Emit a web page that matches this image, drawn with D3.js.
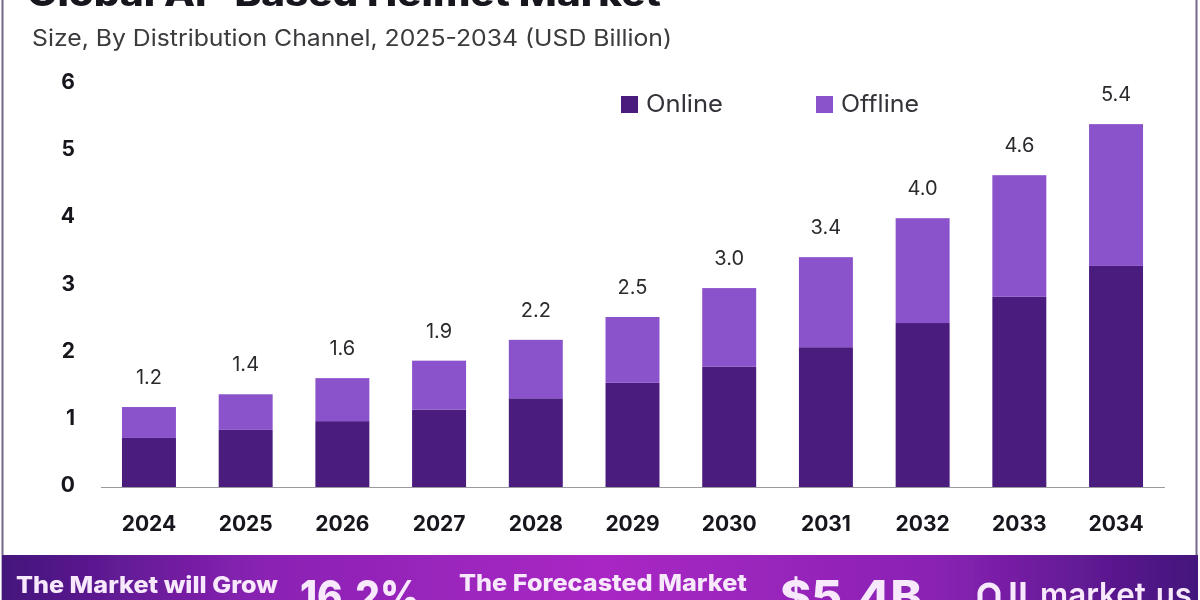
<!DOCTYPE html>
<html>
<head>
<meta charset="utf-8">
<script src="https://cdn.jsdelivr.net/npm/d3@7"></script>
<style>
  html, body { margin: 0; padding: 0; background: #fff; overflow: hidden; }
  svg { display: block; }
  text { font-family: Inter, "Open Sans", sans-serif; }
</style>
</head>
<body>
<div id="chart"></div>
<script>
// Chart data.
const years = ['2024', '2025', '2026', '2027', '2028', '2029', '2030', '2031', '2032', '2033', '2034'];
const online = [0.73, 0.85, 0.98, 1.15, 1.32, 1.55, 1.79, 2.08, 2.44, 2.83, 3.29];
const offline = [0.46, 0.53, 0.64, 0.73, 0.87, 0.98, 1.17, 1.34, 1.56, 1.81, 2.11];
const totalLabels = ['1.2', '1.4', '1.6', '1.9', '2.2', '2.5', '3.0', '3.4', '4.0', '4.6', '5.4'];
const yTicks = [0, 1, 2, 3, 4, 5, 6];
const seriesNames = ['Online', 'Offline'];
const seriesColors = ['#4a1a7e', '#8a52cb'];

const width = 1200, height = 600;

const svg = d3.select('#chart').append('svg')
    .attr('width', width)
    .attr('height', height);

const defs = svg.append('defs');

// Footer gradient: dark at the edges, bright magenta in the middle.
const grad = defs.append('linearGradient').attr('id', 'footerGrad');
grad.append('stop').attr('offset', '0%').attr('stop-color', '#43147c');
grad.append('stop').attr('offset', '22%').attr('stop-color', '#8a22b4');
grad.append('stop').attr('offset', '50%').attr('stop-color', '#a928c4');
grad.append('stop').attr('offset', '78%').attr('stop-color', '#8a22b4');
grad.append('stop').attr('offset', '100%').attr('stop-color', '#43147c');

// The reference is a soft, upscaled image.
defs.append('filter').attr('id', 'soft')
    .append('feGaussianBlur').attr('stdDeviation', 0.5);

const root = svg.append('g').attr('filter', 'url(#soft)');

// Outer frame.
root.append('rect')
    .attr('x', 2.5).attr('y', -5)
    .attr('width', 1194).attr('height', 620)
    .attr('fill', 'none')
    .attr('stroke', '#75668a')
    .attr('stroke-width', 2);

// Title, cut off by the top edge of the picture.
root.append('text')
    .attr('x', 27).attr('y', 6)
    .attr('font-size', 35).attr('font-weight', 800)
    .attr('textLength', 634)
    .attr('lengthAdjust', 'spacingAndGlyphs')
    .attr('fill', '#17141c')
    .text('Global AI- Based Helmet Market');

root.append('text')
    .attr('x', 32).attr('y', 46)
    .attr('font-size', 22.5)
    .attr('textLength', 640)
    .attr('lengthAdjust', 'spacingAndGlyphs')
    .attr('fill', '#3a3a3e')
    .text('Size, By Distribution Channel, 2025-2034 (USD Billion)');

// Scales.
const x = d3.scaleBand().domain(years).range([100.6, 1164.4])
    .paddingInner(0.442).paddingOuter(0.221);
const y = d3.scaleLinear().domain([0, 6]).range([487, 83.8]);

// Stack the two series.
const rows = years.map((d, i) => ({year: d, Online: online[i], Offline: offline[i]}));
const stacked = d3.stack().keys(seriesNames)(rows);

root.selectAll('g.layer')
    .data(stacked)
    .enter().append('g')
    .attr('class', 'layer')
    .attr('fill', (d, i) => seriesColors[i])
    .selectAll('rect')
    .data(d => d)
    .enter().append('rect')
    .attr('x', d => x(d.data.year))
    .attr('y', d => y(d[1]))
    .attr('width', x.bandwidth())
    .attr('height', d => y(d[0]) - y(d[1]));

// Total labels over each bar.
root.selectAll('text.total')
    .data(totalLabels)
    .enter().append('text')
    .attr('class', 'total')
    .attr('x', (d, i) => x(years[i]) + x.bandwidth() / 2)
    .attr('y', (d, i) => y(online[i] + offline[i]) - 23)
    .attr('text-anchor', 'middle')
    .attr('font-size', 20)
    .attr('fill', '#2b2b2e')
    .text(d => d);

// Y axis.
const yAxis = root.append('g')
    .attr('transform', 'translate(75,-2)')
    .call(d3.axisLeft(y).tickValues(yTicks).tickFormat(d3.format('d')).tickSize(0).tickPadding(0));
yAxis.select('.domain').remove();
yAxis.selectAll('text')
    .style('font-family', 'Inter, sans-serif')
    .attr('font-size', 21).attr('font-weight', 700)
    .attr('fill', '#17141c');

// X axis.
const xAxis = root.append('g')
    .attr('transform', 'translate(0,487)')
    .call(d3.axisBottom(x).tickSize(0).tickPadding(29));
xAxis.select('.domain').attr('stroke', '#9a9a9e').attr('stroke-width', 1.2);
xAxis.selectAll('text')
    .style('font-family', 'Inter, sans-serif')
    .attr('font-size', 21).attr('font-weight', 700)
    .attr('fill', '#17141c');

// Legend.
const legendX = [621, 816];
const legendLen = [77, 78];
const legend = root.selectAll('g.legend')
    .data(seriesNames)
    .enter().append('g')
    .attr('class', 'legend')
    .attr('transform', (d, i) => 'translate(' + legendX[i] + ',96)');
legend.append('rect')
    .attr('width', 17).attr('height', 17)
    .attr('fill', (d, i) => seriesColors[i]);
legend.append('text')
    .attr('x', 25).attr('y', 16)
    .attr('font-size', 24)
    .attr('textLength', (d, i) => legendLen[i])
    .attr('lengthAdjust', 'spacingAndGlyphs')
    .attr('fill', '#333338')
    .text(d => d);

// Footer band, its second text line falls outside the picture.
root.append('rect')
    .attr('x', 2).attr('y', 555)
    .attr('width', 1196).attr('height', 50)
    .attr('fill', 'url(#footerGrad)');

const footerTexts = [
  {t: 'The Market will Grow', x: 16, y: 593, size: 23, w: 800, len: 262},
  {t: '16.2%', x: 300, y: 612, size: 44, w: 800, len: 120},
  {t: 'The Forecasted Market', x: 459, y: 591, size: 23, w: 800, len: 288},
  {t: '$5.4B', x: 780, y: 612, size: 44, w: 800, len: 142},
  {t: 'market.us', x: 1040, y: 606, size: 32, w: 600, len: 152}
];
root.selectAll('text.footer')
    .data(footerTexts)
    .enter().append('text')
    .attr('class', 'footer')
    .attr('x', d => d.x).attr('y', d => d.y)
    .attr('font-size', d => d.size)
    .attr('font-weight', d => d.w)
    .attr('textLength', d => d.len)
    .attr('lengthAdjust', 'spacingAndGlyphs')
    .attr('fill', '#f7e9fb')
    .text(d => d.t);

// Logo mark next to market.us.
root.append('path')
    .attr('d', 'M980 600 V594 A9 9 0 0 1 998 594 V600')
    .attr('fill', 'none').attr('stroke', '#f7e9fb').attr('stroke-width', 5);
root.append('path')
    .attr('d', 'M1013 582 V600 M1023 582 V600')
    .attr('fill', 'none').attr('stroke', '#f7e9fb').attr('stroke-width', 5);
</script>
</body>
</html>
